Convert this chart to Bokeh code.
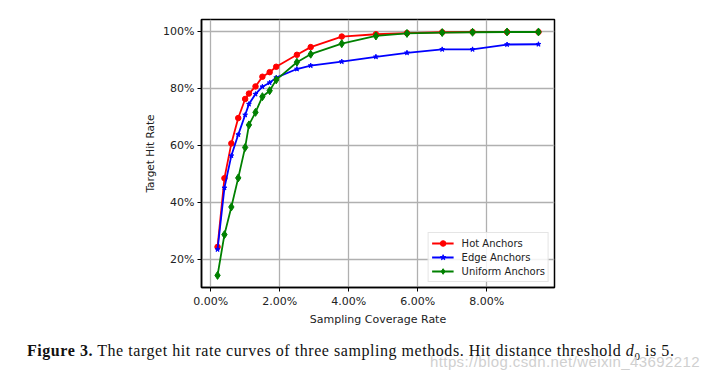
from bokeh.plotting import figure
from bokeh.models import FixedTicker, NumeralTickFormatter, Range1d, Div
from bokeh.layouts import column
from bokeh.embed import file_html
from bokeh.resources import INLINE

# Data (fractions; axis shows percentages)
coverage = [0.0020, 0.0040, 0.0060, 0.0080, 0.0100, 0.0111, 0.0130, 0.0150, 0.0171, 0.0190,
            0.0250, 0.0290, 0.0380, 0.0479, 0.0569, 0.0671, 0.0759, 0.0859, 0.0950]
hot_anchors = [0.245, 0.486, 0.608, 0.697, 0.764, 0.783, 0.808, 0.842, 0.858, 0.877,
               0.919, 0.946, 0.983, 0.991, 0.995, 0.998, 0.999, 0.999, 0.999]
edge_anchors = [0.236, 0.452, 0.565, 0.639, 0.708, 0.746, 0.781, 0.807, 0.821, 0.839,
                0.869, 0.881, 0.895, 0.912, 0.926, 0.938, 0.938, 0.955, 0.956]
uniform_anchors = [0.145, 0.288, 0.385, 0.487, 0.594, 0.673, 0.717, 0.772, 0.793, 0.831,
                   0.893, 0.921, 0.958, 0.985, 0.994, 0.997, 0.998, 0.999, 0.999]
x_ticks = [0.0, 0.02, 0.04, 0.06, 0.08]
y_ticks = [0.2, 0.4, 0.6, 0.8, 1.0]

FONT = "DejaVu Sans"

p = figure(width=701, height=336, output_backend="svg", toolbar_location=None,
           x_range=Range1d(-0.00265, 0.09965), y_range=Range1d(0.1025, 1.0428),
           min_border_left=201, min_border_top=19, min_border_right=147, min_border_bottom=49,
           frame_width=353, frame_height=268)

p.background_fill_color = "white"
p.border_fill_color = "white"
p.outline_line_color = "black"
p.outline_line_width = 1.5

p.grid.grid_line_color = "#b0b0b0"
p.grid.grid_line_width = 1.3
p.xgrid.ticker = FixedTicker(ticks=x_ticks)
p.ygrid.ticker = FixedTicker(ticks=y_ticks)

p.xaxis.ticker = FixedTicker(ticks=x_ticks)
p.yaxis.ticker = FixedTicker(ticks=y_ticks)
p.xaxis.formatter = NumeralTickFormatter(format="0.00%")
p.yaxis.formatter = NumeralTickFormatter(format="0%")

for ax in (p.xaxis, p.yaxis):
    ax.axis_line_color = "black"
    ax.axis_line_width = 1.5
    ax.major_tick_line_color = "black"
    ax.major_tick_in = 0
    ax.major_tick_out = 4
    ax.minor_tick_line_color = None
    ax.major_label_text_font = FONT
    ax.major_label_text_font_size = "11px"
    ax.major_label_text_color = "#222222"
    ax.axis_label_text_font = FONT
    ax.axis_label_text_font_style = "normal"
    ax.axis_label_text_color = "#222222"
    ax.major_label_standoff = 3

p.xaxis.axis_label = "Sampling Coverage Rate"
p.yaxis.axis_label = "Target Hit Rate"
p.xaxis.axis_label_text_font_size = "11px"
p.yaxis.axis_label_text_font_size = "10.5px"
p.xaxis.axis_label_standoff = 2
p.yaxis.axis_label_standoff = 4

series = [
    ("Hot Anchors", hot_anchors, "#ff0000", "circle", 5.5),
    ("Edge Anchors", edge_anchors, "#0000ff", "star", 5),
    ("Uniform Anchors", uniform_anchors, "#008000", "diamond", 8),
]
for name, ys, color, marker, size in series:
    p.line(coverage, ys, line_color=color, line_width=1.8, legend_label=name)
    p.scatter(coverage, ys, marker=marker, size=size, fill_color=color, line_color=color,
              legend_label=name)

lg = p.legend[0]
lg.location = "bottom_right"
lg.margin = 5
lg.padding = 3
lg.spacing = 0
lg.label_height = 14
lg.glyph_height = 14
lg.glyph_width = 22
lg.label_standoff = 8
lg.label_text_font = FONT
lg.label_text_font_size = "10px"
lg.label_text_color = "#222222"
lg.border_line_color = "#cccccc"
lg.border_line_width = 1
lg.background_fill_alpha = 0.85

caption_html = (
    '<div style="position:relative;width:701px;height:34px;">'
    '<span style="position:absolute;left:22px;top:-1px;white-space:nowrap;'
    'font-family:\'Liberation Serif\',serif;font-size:16px;letter-spacing:0.55px;color:#111;">'
    '<b>Figure 3.</b> The target hit rate curves of three sampling methods. '
    'Hit distance threshold <i>d</i><sub style="font-size:11px;">0</sub> is 5.</span>'
    '<span style="position:absolute;left:425px;top:10px;white-space:nowrap;'
    'font-family:\'Liberation Sans\',sans-serif;font-size:15px;letter-spacing:0.4px;color:#d0d0d0;">'
    'https://blog.csdn.net/weixin_43692212</span>'
    '</div>'
)
caption = Div(text=caption_html, width=701, height=34)

layout = column(p, caption, spacing=0)

open("out.html", "w").write(file_html(layout, INLINE))
